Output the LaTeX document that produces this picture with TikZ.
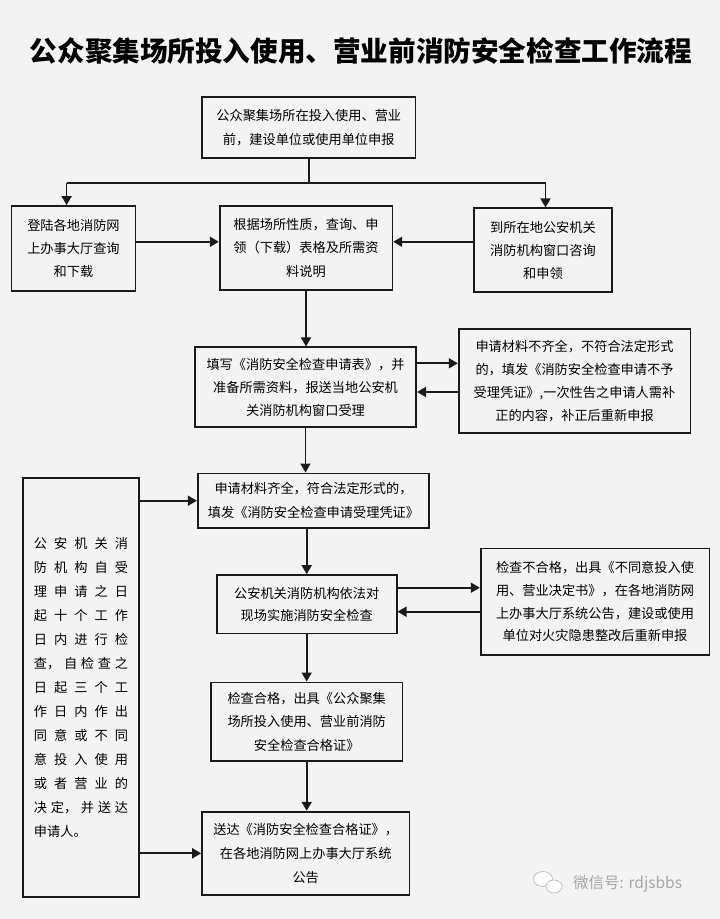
\documentclass[tikz,border=0pt]{standalone}
\usepackage{fontspec}
\newfontfamily\cjk{Noto Sans CJK SC}
\usetikzlibrary{arrows.meta}
\definecolor{bg}{HTML}{F3F3F3}
\definecolor{ink}{HTML}{1A1A1A}
\newcommand{\fs}[1]{\cjk\fontsize{13.2}{#1}\selectfont}
\newcommand{\sprline}[1]{\makebox[94pt]{#1}}
\begin{document}
\begin{tikzpicture}[x=1pt,y=-1pt,
  box/.style={draw=ink, line width=1.7pt, align=center, inner sep=0pt, text=black, font=\fs{23.3}},
  arr/.style={draw=ink, line width=1.7pt, -{Triangle[length=9pt,width=10pt]}},
  ln/.style={draw=ink, line width=1.7pt}]
\fill[bg] (0,0) rectangle (720,919);
\useasboundingbox (0,0) rectangle (720,919);

\node[font=\cjk\bfseries\fontsize{27.6}{30}\selectfont, text=black] (title) at (361,51) {公众聚集场所投入使用、营业前消防安全检查工作流程};

\node[box, minimum width=213.5pt, minimum height=60.4pt, font=\fs{24}] (top) at (308.75,127.5) {公众聚集场所在投入使用、营业\\前，建设单位或使用单位申报};
\node[box, minimum width=124pt, minimum height=84.7pt] (lb) at (73.5,248.3) {登陆各地消防网\\上办事大厅查询\\和下载};
\node[box, minimum width=172.7pt, minimum height=84.3pt] (mb) at (306,247.8) {根据场所性质，查询、申\\领（下载）表格及所需资\\料说明};
\node[box, minimum width=138pt, minimum height=84pt] (rb) at (543,250.3) {到所在地公安机关\\消防机构窗口咨询\\和申领};

\node[box, minimum width=221.5pt, minimum height=80pt] (b4) at (305.5,387.3) {填写《消防安全检查申请表》，并\\准备所需资料，报送当地公安机\\关消防机构窗口受理};
\node[box, minimum width=231.7pt, minimum height=103.7pt, font=\fs{23}] (r4) at (574.5,380.8) {申请材料不齐全，不符合法定形式\\的，填发《消防安全检查申请不予\\受理凭证》,一次性告之申请人需补\\正的内容，补正后重新申报};

\node[box, minimum width=231.6pt, minimum height=54.7pt, font=\fs{24}] (b5) at (313.5,500.7) {申请材料齐全，符合法定形式的，\\填发《消防安全检查申请受理凭证》};
\node[box, minimum width=180pt, minimum height=58.3pt, font=\fs{22}] (b6) at (306.7,604.2) {公安机关消防机构依法对\\现场实施消防安全检查};
\node[box, minimum width=228.7pt, minimum height=106.7pt, font=\fs{22.8}] (r6) at (595,601.7) {检查不合格，出具《不同意投入使\\用、营业决定书》，在各地消防网\\上办事大厅系统公告，建设或使用\\单位对火灾隐患整改后重新申报};
\node[box, minimum width=191.3pt, minimum height=78.7pt] (b7) at (306.7,721.7) {检查合格，出具《公众聚集\\场所投入使用、营业前消防\\安全检查合格证》};
\node[box, minimum width=207.3pt, minimum height=83.3pt, font=\fs{24}] (b8) at (305.7,853.3) {送达《消防安全检查合格证》，\\在各地消防网上办事大厅系统\\公告};

\node[box, minimum width=116.6pt, minimum height=419pt, align=left, font=\fs{24}] (lt) at (81,687.8) {%
\sprline{公\hfill 安\hfill 机\hfill 关\hfill 消}\\
\sprline{防\hfill 机\hfill 构\hfill 自\hfill 受}\\
\sprline{理\hfill 申\hfill 请\hfill 之\hfill 日}\\
\sprline{起\hfill 十\hfill 个\hfill 工\hfill 作}\\
\sprline{日\hfill 内\hfill 进\hfill 行\hfill 检}\\
\sprline{查，\hfill 自\hfill 检\hfill 查\hfill 之}\\
\sprline{日\hfill 起\hfill 三\hfill 个\hfill 工}\\
\sprline{作\hfill 日\hfill 内\hfill 作\hfill 出}\\
\sprline{同\hfill 意\hfill 或\hfill 不\hfill 同}\\
\sprline{意\hfill 投\hfill 入\hfill 使\hfill 用}\\
\sprline{或\hfill 者\hfill 营\hfill 业\hfill 的}\\
\sprline{决\hfill 定，\hfill 并\hfill 送\hfill 达}\\
\sprline{申请人。\hfill}};

% connectors
\coordinate (jl) at (66.6,182.7);
\coordinate (jr) at (545.5,182.7);
\draw[ln] (top.south) -- (top.south |- jl);
\draw[ln] (jl) -- (jr);
\draw[arr] (jl) -- (jl |- lb.north);
\draw[arr] (jr) -- (jr |- rb.north);
\draw[arr] ([yshift=6pt]mb.west -| lb.east) -- ([yshift=6pt]mb.west);
\draw[arr] ([yshift=6pt]mb.east -| rb.west) -- ([yshift=6pt]mb.east);
\draw[arr] (mb.south) -- (mb.south |- b4.north);
\draw[arr] ([yshift=24pt]b4.east) -- ([yshift=24pt]b4.east -| r4.west);
\draw[arr] ([yshift=-4.7pt]b4.east -| r4.west) -- ([yshift=-4.7pt]b4.east);
\draw[arr] (b4.south) -- (b4.south |- b5.north);
\draw[arr] (b5.west -| lt.east) -- (b5.west);
\draw[arr] (b6.north |- b5.south) -- (b6.north);
\draw[arr] ([yshift=16.5pt]b6.east) -- ([yshift=16.5pt]b6.east -| r6.west);
\draw[arr] ([yshift=-7.5pt]b6.east -| r6.west) -- ([yshift=-7.5pt]b6.east);
\draw[arr] (b6.south) -- (b7.north);
\draw[arr] (b7.south) -- (b7.south |- b8.north);
\draw[arr] (b8.west -| lt.east) -- (b8.west);

% watermark
\draw[gray!55, fill=white, line width=0.7pt] (543,879) ellipse [x radius=9.5, y radius=7.5];
\draw[gray!55, fill=white, line width=0.7pt] (554,886.5) ellipse [x radius=8, y radius=6.5];
\node[font=\cjk\fontsize{15.5}{18}\selectfont, text=gray!70, anchor=west, inner sep=0pt] (wm) at (573,884) {微信号: rdjsbbs};
\end{tikzpicture}
\end{document}
